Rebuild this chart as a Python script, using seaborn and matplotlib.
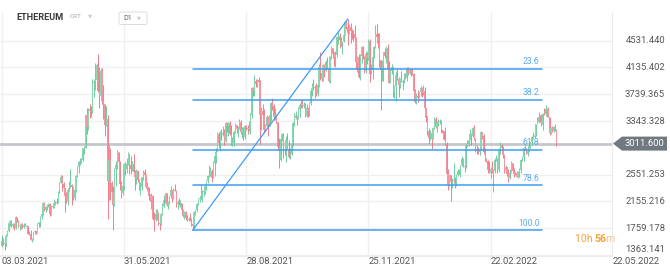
import numpy as np
import matplotlib
matplotlib.use("Agg")
import matplotlib.pyplot as plt
import matplotlib.transforms as mtransforms
from matplotlib.patches import Polygon, FancyBboxPatch
import seaborn as sns

# ---------------- data (daily candles, 03.03.2021 -> 11.04.2022) ----------------
first_open = 1490

closes = [
    # Mar 2021 (3..31)
    1575,1540,1530,1650,1725,1835,1870,1795,1825,1770,1925,1855,1790,1805,1825,1780,1810,1800,1780,1680,1670,1585,1590,1700,1715,1690,1820,1845,1920,
    # Apr 2021
    1975,2140,2025,2080,2110,2115,1965,2085,2070,2135,2150,2140,2300,2430,2515,2420,2350,2235,2160,2330,2360,2400,2365,2210,2320,2535,2660,2745,2760,2775,
    # May 2021
    2945,2950,3430,3250,3520,3490,3480,3900,3925,3950,4170,3785,3715,4080,3640,3590,3280,3380,2460,2770,2430,2300,2100,2640,2700,2890,2740,2410,2280,2390,2710,
    # Jun 2021
    2630,2710,2860,2690,2630,2710,2590,2520,2610,2470,2370,2370,2510,2590,2550,2370,2370,2230,2180,2240,1890,1875,1970,1990,1830,1820,1975,2090,2170,2275,
    # Jul 2021
    2110,2150,2230,2320,2200,2325,2315,2120,2150,2140,2140,2035,1940,1995,1915,1880,1900,1895,1820,1787,1995,2030,2125,2190,2190,2230,2300,2300,2380,2465,2535,
    # Aug 2021
    2560,2610,2505,2725,2825,2890,3155,3015,3165,3140,3165,3050,3320,3265,3310,3150,3010,3020,3180,3290,3225,3240,3325,3175,3230,3115,3270,3245,3225,3230,3435,
    # Sep 2021
    3835,3790,3940,3890,3950,3925,3430,3495,3430,3210,3270,3410,3285,3430,3615,3570,3400,3435,3330,2960,2765,3080,3155,2930,2925,3060,2930,2810,2850,3000,
    # Oct 2021
    3310,3390,3420,3380,3520,3580,3590,3560,3580,3415,3540,3490,3605,3790,3865,3830,3850,3750,3880,4150,4060,3970,4170,4090,4220,4130,3930,4290,4420,4330,4290,
    # Nov 2021
    4320,4590,4605,4535,4480,4520,4620,4810,4740,4640,4730,4670,4650,4630,4575,4210,4290,3990,4300,4440,4270,4090,4340,4270,4525,4045,4095,4295,4445,4630,
    # Dec 2021
    4585,4520,4240,4100,4200,4360,4310,4430,4110,3910,4085,4140,3780,3860,4020,3960,3880,3960,3925,3940,4020,3980,4110,4050,4100,4070,4040,3790,3630,3710,3680,
    # Jan 2022
    3770,3830,3760,3795,3540,3420,3195,3090,3160,3080,3240,3375,3250,3310,3330,3350,3210,3165,3100,3000,2560,2405,2540,2440,2460,2470,2425,2550,2600,2605,2690,
    # Feb 2022
    2790,2680,2660,2990,3010,3060,3150,3120,3240,3080,2930,2920,2880,2930,3180,3120,2880,2780,2760,2620,2570,2640,2590,2600,2770,2780,2620,2920,
    # Mar 2022
    2970,2950,2835,2620,2665,2555,2500,2575,2730,2605,2560,2575,2515,2590,2620,2770,2815,2945,2950,2860,2895,2970,3030,3110,3110,3140,3300,3330,3400,3385,3280,
    # Apr 2022 (1..11)
    3455,3445,3520,3520,3410,3170,3235,3190,3260,3210,3011.6,
]

highs = [
    1655,1620,1550,1670,1735,1840,1880,1880,1840,1830,1935,1930,1880,1810,1835,1835,1830,1835,1810,1790,1725,1730,1610,1705,1730,1725,1830,1855,1945,
    2000,2145,2145,2090,2120,2140,2135,2095,2100,2195,2160,2200,2310,2445,2545,2550,2450,2360,2300,2345,2460,2640,2420,2370,2360,2545,2680,2760,2795,2800,
    2950,2980,3440,3530,3540,3600,3570,3970,3970,4200,4200,4340,4150,4130,4130,3880,3600,3560,3440,2990,2940,2460,2380,2650,2750,2910,2890,2760,2460,2450,2720,
    2740,2800,2890,2860,2820,2750,2850,2620,2630,2620,2490,2440,2520,2620,2640,2560,2440,2370,2270,2280,2250,2000,2050,2040,2000,1860,1990,2130,2250,2280,
    2280,2160,2240,2390,2320,2350,2410,2320,2180,2200,2170,2140,2040,2010,2010,1960,1930,1980,1910,1830,2020,2040,2130,2200,2200,2420,2320,2340,2390,2470,2550,
    2700,2660,2630,2760,2840,2950,3180,3180,3190,3230,3270,3230,3330,3330,3330,3340,3290,3110,3190,3310,3280,3270,3370,3360,3250,3250,3280,3290,3280,3340,3470,
    3840,3840,4025,3970,3970,3990,3950,3550,3600,3520,3300,3440,3420,3460,3630,3680,3590,3530,3450,3330,3100,3100,3170,3160,2970,3120,3170,3070,2940,3040,
    3330,3470,3490,3430,3550,3610,3650,3670,3630,3610,3600,3550,3620,3830,3900,3970,3870,3900,3890,4180,4370,4170,4180,4180,4240,4290,4300,4300,4460,4420,4370,
    4380,4600,4660,4650,4580,4530,4640,4820,4840,4852,4780,4800,4700,4690,4770,4580,4300,4340,4330,4460,4460,4300,4380,4370,4550,4550,4180,4300,4460,4770,
    4780,4640,4650,4240,4240,4370,4420,4450,4480,4230,4110,4180,4150,3880,4090,4110,4000,3980,4080,3960,4060,4060,4140,4150,4130,4120,4130,4050,3820,3760,3800,
    3780,3860,3850,3880,3850,3540,3420,3240,3210,3170,3260,3410,3400,3340,3370,3370,3360,3210,3200,3260,3030,2630,2550,2460,2500,2720,2510,2560,2630,2640,2700,
    2820,2800,2700,3000,3060,3070,3230,3170,3260,3280,3100,2990,2960,2950,3190,3180,3150,2940,2800,2770,2750,2660,2750,2640,2800,2840,2800,2940,
    3040,3000,2970,2850,2690,2670,2630,2640,2760,2730,2650,2610,2600,2600,2650,2790,2830,2950,2990,2950,2950,3050,3040,3120,3180,3140,3300,3400,3480,3440,3450,
    3470,3530,3580,3540,3550,3410,3260,3270,3270,3300,3220,
]

lows = [
    1480,1510,1440,1500,1640,1700,1800,1780,1760,1730,1750,1850,1780,1735,1750,1760,1760,1795,1740,1670,1660,1580,1550,1590,1675,1675,1690,1780,1775,
    1900,1960,2015,2000,2025,2080,1935,1960,2060,2065,2110,2115,2130,2280,2425,2310,2330,2000,2140,2105,2310,2360,2100,2180,2170,2300,2520,2580,2690,2720,
    2760,2860,2950,3150,3210,3390,3400,3460,3700,3800,3880,3780,3530,3700,3600,3380,3120,3270,1900,2170,2170,2170,1730,2090,2390,2640,2690,2320,2200,2250,2330,
    2550,2580,2690,2560,2560,2610,2580,2320,2420,2440,2330,2250,2320,2470,2500,2350,2310,2180,2160,2040,1880,1720,1860,1880,1810,1730,1810,1950,2070,2130,
    2090,2040,2120,2200,2150,2190,2310,2080,2050,2100,2080,2000,1920,1890,1880,1860,1870,1870,1790,1730,1770,1960,2000,2110,2150,2190,2150,2230,2270,2320,2430,
    2510,2530,2450,2500,2530,2730,2880,2950,2900,3060,3130,2990,3040,3180,3120,3140,2990,2970,2970,3160,3170,3110,3230,3150,3100,3070,3080,3210,3150,3200,3150,
    3390,3720,3715,3840,3850,3840,3010,3210,3410,3160,3200,3250,3120,3270,3350,3510,3360,3360,3310,2920,2650,2750,3050,2800,2840,2740,2930,2800,2780,2840,
    2970,3270,3370,3280,3370,3400,3530,3540,3540,3400,3400,3400,3420,3580,3720,3810,3680,3710,3710,3840,3950,3940,3940,3990,4080,4120,3920,3910,4260,4270,4160,
    4150,4290,4480,4430,4460,4330,4510,4610,4700,4470,4630,4500,4550,4520,4560,4110,4070,3980,3950,4200,4260,4060,4060,4180,4250,3920,4040,3970,4280,4430,
    4500,4430,4150,3500,3940,3930,4270,4200,4100,3900,3900,4040,3700,3690,3640,3950,3700,3830,3920,3800,3900,3960,3930,4030,4040,4010,4030,3760,3610,3600,3630,
    3680,3720,3700,3730,3400,3330,3140,3000,3060,2930,3080,3220,3240,3180,3270,3300,3170,3080,3060,2990,2510,2320,2390,2160,2350,2430,2360,2390,2530,2560,2520,
    2680,2660,2590,2650,2960,2980,3060,2990,3110,3060,2890,2860,2860,2840,2920,3080,2860,2760,2740,2570,2570,2500,2580,2300,2580,2750,2580,2590,
    2860,2890,2800,2580,2600,2530,2450,2480,2570,2570,2520,2550,2510,2500,2510,2580,2750,2760,2910,2850,2830,2890,2950,2990,3080,3090,3130,3300,3320,3330,3270,
    3210,3430,3420,3400,3410,3140,3150,3180,3180,3190,2980,
]

price_ticks = [4531.440, 4135.402, 3739.365, 3343.328, 2551.253, 2155.216, 1759.178, 1363.141]
date_labels = ["03.03.2021", "31.05.2021", "28.08.2021", "25.11.2021", "22.02.2022", "22.05.2022"]
date_days = [0, 89, 178, 267, 356, 445]          # days after 03.03.2021
last_price = 3011.600

fib_low, fib_high = 1730, 4852                     # swing low / high of the retracement
fib_low_day, fib_high_day, fib_end_day = 139, 252, 393.2
fib_ratios = [0.236, 0.382, 0.618, 0.786, 1.0]
fib_labels = ["23.6", "38.2", "61.8", "78.6", "100.0"]

# ---------------- style ----------------
sns.set_theme(style="white")
plt.rcParams["font.family"] = ["Roboto", "DejaVu Sans"]

W, H = 670, 274
fig = plt.figure(figsize=(W / 100, H / 100), dpi=100)
fig.patch.set_facecolor("white")

def fx(px):
    return px / W

def fy(py):
    return 1 - py / H

ax_left, ax_right, ax_top, ax_bottom = 0, 612, 12, 256
ax = fig.add_axes([fx(ax_left), fy(ax_bottom), fx(ax_right - ax_left), (ax_bottom - ax_top) / H])
ax.set_facecolor("white")

# pixel <-> value calibration
px_per_day = 1.373
x0_px = 1.8
y_ref_px, y_ref_val, val_per_px = 40.7, 4531.44, 14.78
ax.set_xlim((ax_left - x0_px) / px_per_day, (ax_right - x0_px) / px_per_day)
ax.set_ylim(y_ref_val - (ax_bottom - y_ref_px) * val_per_px, y_ref_val + (y_ref_px - ax_top) * val_per_px)

for s in ["left", "top"]:
    ax.spines[s].set_visible(False)
ax.spines["right"].set_color("#ececec")
ax.spines["bottom"].set_color("#ececec")
ax.spines["right"].set_linewidth(0.8)
ax.spines["bottom"].set_linewidth(0.8)
ax.set_xticks([])
ax.set_yticks([])

grid_c = "#efefef"
for p in price_ticks:
    ax.axhline(p, color=grid_c, lw=0.9, zorder=0)
for d in date_days[:-1]:
    ax.axvline(d, color=grid_c, lw=0.9, zorder=0)

# ---------------- candles ----------------
closes_a = np.array(closes, dtype=float)
opens_a = np.concatenate([[first_open], closes_a[:-1]])
n = len(closes_a)
highs_a = np.array(highs[:n], dtype=float)
lows_a = np.array(lows[:n], dtype=float)
highs_a = np.maximum(highs_a, np.maximum(opens_a, closes_a))
lows_a = np.minimum(lows_a, np.minimum(opens_a, closes_a))
days = np.arange(n)
up = closes_a >= opens_a

body_up, body_dn = "#8ad8b2", "#f4959f"
wick_up, wick_dn = "#5cc592", "#ec6b79"

ax.axhline(last_price, color="#c3c7cb", lw=2.0, zorder=2)

ax.vlines(days, lows_a, highs_a, colors=np.where(up, wick_up, wick_dn), lw=0.6, zorder=3)
body_h = np.maximum(np.abs(closes_a - opens_a), 12)
ax.bar(days, body_h, bottom=np.minimum(opens_a, closes_a), width=0.85,
       color=np.where(up, body_up, body_dn), linewidth=0, zorder=4)

# ---------------- fibonacci ----------------
fib_c = "#3d9df3"
ax.plot([fib_low_day, fib_high_day], [fib_low, fib_high], color=fib_c, lw=0.9, zorder=5)
rng = fib_high - fib_low
for r, lab in zip(fib_ratios, fib_labels):
    lvl = fib_high - r * rng
    ax.plot([fib_low_day, fib_end_day], [lvl, lvl], color=fib_c, lw=1.1, zorder=5)
    ax.text(fib_end_day - 1.5, lvl + 7 * val_per_px, lab, ha="right", va="center",
            fontsize=6.2, color="#5aabf5", zorder=6)

# ---------------- price axis ----------------
tr_price = mtransforms.blended_transform_factory(fig.transFigure, ax.transData)
for p in price_ticks[:-1]:
    fig.text(fx(665), p, f"{p:.3f}", transform=tr_price, ha="right", va="center",
             fontsize=6.8, color="#555555")
fig.text(fx(665), fy(250), f"{price_ticks[-1]:.3f}", ha="right", va="center", fontsize=6.8, color="#555555")

# last price tag
y_lp = 143.6
tag = Polygon([(fx(613), fy(y_lp)), (fx(622), fy(y_lp - 7)), (fx(667), fy(y_lp - 7)),
               (fx(667), fy(y_lp + 7)), (fx(622), fy(y_lp + 7))], closed=True,
              transform=fig.transFigure, facecolor="#717980", edgecolor="none")
fig.add_artist(tag)
fig.text(fx(664), fy(y_lp), f"{last_price:.3f}", ha="right", va="center", fontsize=6.8, color="white")

# ---------------- date axis ----------------
tr_date = mtransforms.blended_transform_factory(ax.transData, fig.transFigure)
for d, lab in zip(date_days, date_labels):
    ax.text(d, fy(261), lab, transform=tr_date, ha="left", va="center", fontsize=6.8,
            color="#555555", clip_on=False)

# ---------------- header ----------------
fig.text(fx(16), fy(17), "ETHEREUM", ha="left", va="center", fontsize=6.6, fontweight="bold", color="#3a3a3a")
fig.text(fx(70), fy(17), "CRT", ha="left", va="center", fontsize=4.6, color="#a8a8a8")
fig.text(fx(88), fy(16), "▼", ha="left", va="center", fontsize=3.8, color="#c8c8c8", family=["DejaVu Sans"])
box = FancyBboxPatch((fx(119), fy(24.5)), fx(28), 12.5 / H, boxstyle="round,pad=0,rounding_size=0.004",
                     transform=fig.transFigure, facecolor="white", edgecolor="#dcdcdc", lw=0.7)
fig.add_artist(box)
fig.text(fx(123), fy(18), "D1", ha="left", va="center", fontsize=5.2, color="#666666")
fig.text(fx(137), fy(17.5), "▼", ha="left", va="center", fontsize=3.6, color="#c8c8c8", family=["DejaVu Sans"])

# countdown
fig.text(fx(575), fy(239), "10h ", ha="left", va="center", fontsize=7.6, color="#f5a13a")
fig.text(fx(594), fy(239), "56", ha="left", va="center", fontsize=7.6, color="#f5a13a", fontweight="bold")
fig.text(fx(605), fy(239), "m", ha="left", va="center", fontsize=7.6, color="#f9c98b")

fig.savefig("out.png", dpi=100, facecolor="white")
